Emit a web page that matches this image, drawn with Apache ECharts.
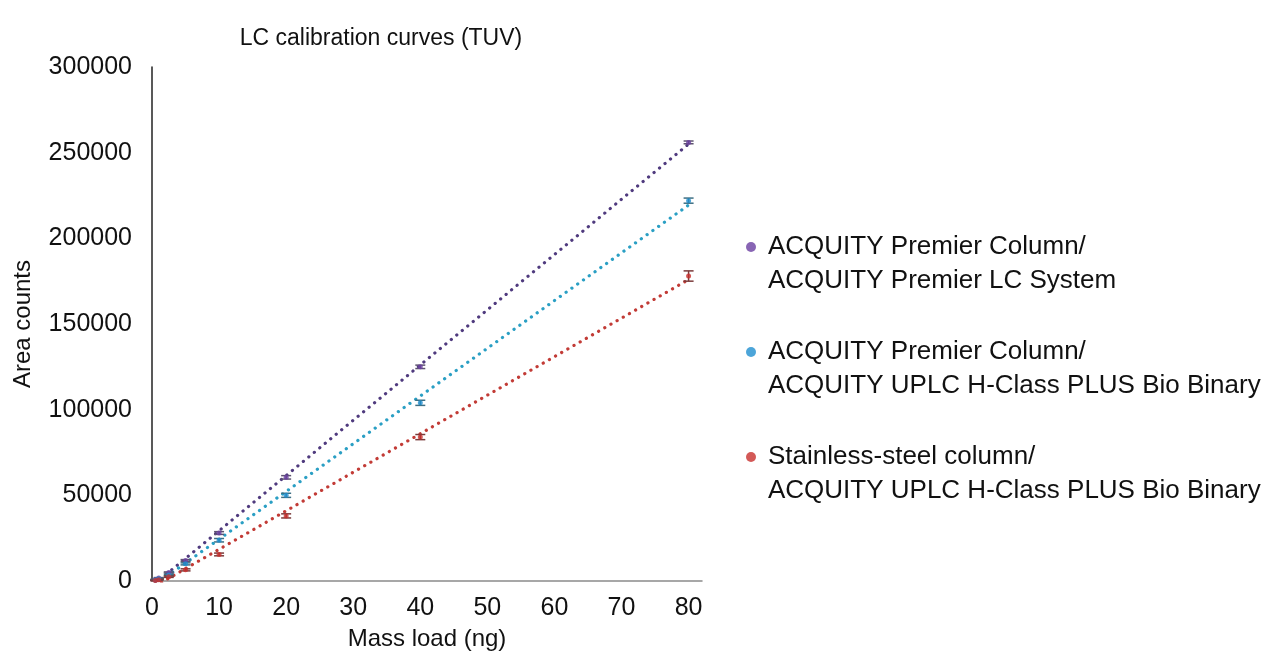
<!DOCTYPE html>
<html>
<head>
<meta charset="utf-8">
<script src="https://cdn.jsdelivr.net/npm/echarts@6/dist/echarts.min.js"></script>
<style>
html,body{margin:0;padding:0;background:#fff;}
#chart{width:1281px;height:654px;}
</style>
</head>
<body>
<div id="chart"></div>
<script>
const massLoad = [0.5, 1, 2.5, 5, 10, 20, 40, 80];
const seriesNames = [
  'ACQUITY Premier Column/\nACQUITY Premier LC System',
  'ACQUITY Premier Column/\nACQUITY UPLC H-Class PLUS Bio Binary',
  'Stainless-steel column/\nACQUITY UPLC H-Class PLUS Bio Binary'
];
const premierLC = [800, 1800, 5000, 12000, 28000, 60500, 125000, 256000];
const premierHClass = [600, 1300, 3500, 10000, 23800, 50000, 104000, 222000];
const stainlessHClass = [300, 800, 2500, 6500, 15500, 38000, 84000, 178000];
const errPremierLC = [200, 200, 300, 500, 800, 1000, 1000, 800];
const errPremierHClass = [200, 300, 400, 600, 1000, 1200, 1500, 1500];
const errStainlessHClass = [200, 300, 400, 600, 800, 1200, 1500, 3000];
const xTicks = [0, 10, 20, 30, 40, 50, 60, 70, 80];

const markerColors = ['#6a3ea1', '#1f8fd0', '#c8302d'];
const lineColors = ['#4f3a7e', '#2a9fc4', '#c23b36'];
const errColors = ['#5e5470', '#3d6f84', '#7a3a3a'];

const values = [premierLC, premierHClass, stainlessHClass];
const errors = [errPremierLC, errPremierHClass, errStainlessHClass];

function fit(xs, ys) {
  const n = xs.length;
  let sx = 0, sy = 0, sxx = 0, sxy = 0;
  for (let i = 0; i < n; i++) { sx += xs[i]; sy += ys[i]; sxx += xs[i]*xs[i]; sxy += xs[i]*ys[i]; }
  const b = (n*sxy - sx*sy) / (n*sxx - sx*sx);
  const a = (sy - b*sx) / n;
  return [a, b];
}

const FONT = 'Liberation Sans, Arial, sans-serif';
const series = [];
values.forEach((vals, k) => {
  const [a, b] = fit(massLoad, vals);
  const x0 = massLoad[0], x1 = massLoad[massLoad.length - 1];
  series.push({
    type: 'line', silent: true, symbol: 'none', z: 2,
    data: [[x0, a + b*x0], [x1, a + b*x1]],
    lineStyle: { color: lineColors[k], width: 3.2, type: [0.1, 7], cap: 'round' }
  });
  series.push({
    type: 'custom', silent: true, z: 3,
    data: massLoad.map((x, i) => [x, vals[i] - errors[k][i], vals[i] + errors[k][i]]),
    renderItem: function (params, api) {
      const lo = api.coord([api.value(0), api.value(1)]);
      const hi = api.coord([api.value(0), api.value(2)]);
      const w = 5;
      const st = { stroke: errColors[k], lineWidth: 1.5 };
      return { type: 'group', children: [
        { type: 'line', shape: { x1: lo[0], y1: lo[1], x2: hi[0], y2: hi[1] }, style: st },
        { type: 'line', shape: { x1: lo[0]-w, y1: lo[1], x2: lo[0]+w, y2: lo[1] }, style: st },
        { type: 'line', shape: { x1: hi[0]-w, y1: hi[1], x2: hi[0]+w, y2: hi[1] }, style: st }
      ]};
    }
  });
  series.push({
    name: seriesNames[k], type: 'scatter', z: 4,
    symbol: 'circle', symbolSize: 5,
    itemStyle: { color: markerColors[k] },
    data: massLoad.map((x, i) => [x, vals[i]])
  });
});

const chart = echarts.init(document.getElementById('chart'));
chart.setOption({
  animation: false,
  backgroundColor: '#fff',
  textStyle: { fontFamily: FONT },
  title: {
    text: 'LC calibration curves (TUV)', left: 376, top: 22, textAlign: 'center',
    textStyle: { fontFamily: FONT, fontSize: 23, fontWeight: 'normal', color: '#111' }
  },
  grid: { left: 152, right: 579, top: 67, bottom: 73, outerBoundsMode: 'none', containLabel: false },
  legend: {
    orient: 'vertical', left: 741, top: 191, itemGap: 3,
    itemWidth: 24, itemHeight: 10, icon: 'circle',
    data: seriesNames,
    formatter: name => ' \n' + name,
    textStyle: { fontFamily: FONT, fontSize: 26, color: '#111', lineHeight: 34 }
  },
  xAxis: {
    type: 'value', min: 0, max: 82, interval: 10,
    name: 'Mass load (ng)', nameLocation: 'middle', nameGap: 46,
    nameTextStyle: { fontFamily: FONT, fontSize: 24, color: '#111' },
    axisLine: { show: true, lineStyle: { color: '#8a8a8a', width: 1.5 } },
    axisTick: { show: false },
    splitLine: { show: false },
    axisLabel: {
      fontFamily: FONT, fontSize: 25, color: '#111', margin: 15,
      formatter: v => (xTicks.indexOf(v) >= 0 ? String(v) : '')
    }
  },
  yAxis: {
    type: 'value', min: 0, max: 300000, interval: 50000,
    name: 'Area counts', nameLocation: 'middle', nameGap: 117, nameRotate: 90,
    nameTextStyle: { fontFamily: FONT, fontSize: 24, color: '#111' },
    axisLine: { show: true, lineStyle: { color: '#222', width: 1.5 } },
    axisTick: { show: false },
    splitLine: { show: false },
    axisLabel: { fontFamily: FONT, fontSize: 25, color: '#111', margin: 20, formatter: v => String(v) }
  },
  series: series
});
</script>
</body>
</html>
